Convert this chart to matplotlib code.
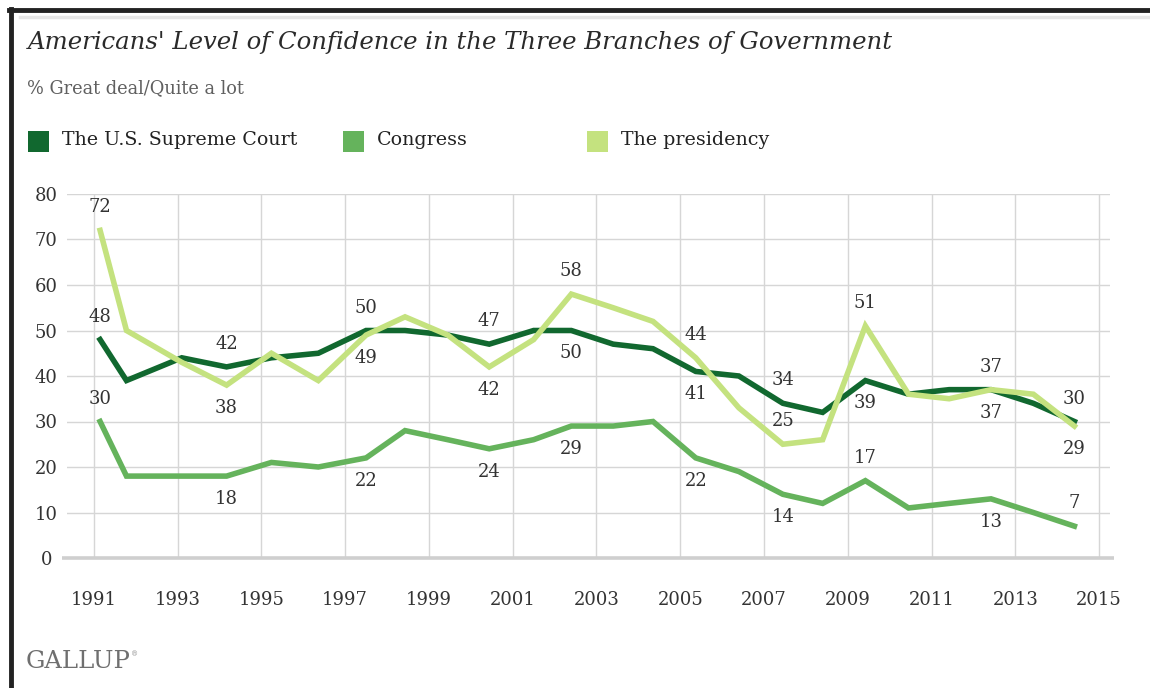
#!/usr/bin/env python3
"""Gallup: confidence in the three branches of government, 1991-2014."""
import matplotlib
matplotlib.use("Agg")
import matplotlib.pyplot as plt
from matplotlib.lines import Line2D
from matplotlib.patches import Rectangle

# survey dates (decimal years)
dates = [1991.15, 1991.78, 1993.1, 1994.17, 1995.24, 1996.36, 1997.5, 1998.43,
         1999.45, 2000.44, 2001.5, 2002.4, 2003.4, 2004.35, 2005.37, 2006.4,
         2007.45, 2008.4, 2009.42, 2010.45, 2011.42, 2012.42, 2013.43, 2014.41]

supreme_court = [48, 39, 44, 42, 44, 45, 50, 50, 49, 47, 50, 50,
                 47, 46, 41, 40, 34, 32, 39, 36, 37, 37, 34, 30]
congress = [30, 18, 18, 18, 21, 20, 22, 28, 26, 24, 26, 29,
            29, 30, 22, 19, 14, 12, 17, 11, 12, 13, 10, 7]
presidency = [72, 50, 43, 38, 45, 39, 49, 53, 49, 42, 48, 58,
              55, 52, 44, 33, 25, 26, 51, 36, 35, 37, 36, 29]

series_names = ["The U.S. Supreme Court", "Congress", "The presidency"]
colors = ["#11682f", "#65b35c", "#c4e27f"]

# which points carry a value label, and on which side of the line
court_labels = {0: "up", 3: "up", 6: "up", 9: "up", 11: "down", 14: "down",
                16: "up", 18: "down", 21: "up", 23: "up"}
congress_labels = {0: "up", 3: "down", 6: "down", 9: "down", 11: "down", 14: "down",
                   16: "down", 18: "up", 21: "down", 23: "up"}
presidency_labels = {0: "up", 3: "down", 6: "down", 9: "down", 11: "up", 14: "up",
                     16: "up", 18: "up", 21: "down", 23: "down"}

x_ticks = list(range(1991, 2016, 2))
y_ticks = list(range(0, 81, 10))

SERIF = "DejaVu Serif"
TEXT = "#333333"

W, H = 1150, 688
fig = plt.figure(figsize=(W / 100, H / 100), dpi=100)
fig.patch.set_facecolor("white")

# plot area in pixels: x 67..1110, y 194..558
ax = fig.add_axes([67 / W, (H - 558) / H, (1110 - 67) / W, (558 - 194) / H])
ax.set_xlim(1990.36, 2015.26)
ax.set_ylim(0, 80)
for s in ax.spines.values():
    s.set_visible(False)

for yv in y_ticks[1:]:
    ax.axhline(yv, color="#d6d6d6", lw=1.0, zorder=0)
for xv in x_ticks:
    ax.axvline(xv, color="#d6d6d6", lw=1.0, zorder=0)
ax.plot([1990.25, 2015.35], [0, 0], color="#cfcfcf", lw=2.6, zorder=1,
        clip_on=False, solid_capstyle="butt")

ax.set_xticks(x_ticks)
ax.set_xticklabels([str(t) for t in x_ticks])
ax.set_yticks(y_ticks)
ax.set_yticklabels([str(v) for v in y_ticks])
ax.tick_params(axis="both", length=0, labelsize=13, labelcolor=TEXT)
ax.tick_params(axis="x", pad=24)
ax.tick_params(axis="y", pad=15)
for lab in ax.get_yticklabels():
    lab.set_horizontalalignment("center")
for lab in ax.get_xticklabels() + ax.get_yticklabels():
    lab.set_family(SERIF)

series = [supreme_court, congress, presidency]
label_maps = [court_labels, congress_labels, presidency_labels]
order = [1, 0, 2]
for i in order:
    ax.plot(dates, series[i], color=colors[i], lw=4.0, solid_joinstyle="miter",
            zorder=3 + order.index(i))

for vals, labels in zip(series, label_maps):
    for idx, side in labels.items():
        dy = 16.5 if side == "up" else -16.5
        ax.annotate(str(vals[idx]), (dates[idx], vals[idx]), xytext=(0, dy),
                    textcoords="offset points", ha="center", va="center",
                    fontsize=13, family=SERIF, color=TEXT, zorder=10)

# title, subtitle
fig.text(28 / W, 1 - 43 / H, "Americans' Level of Confidence in the Three Branches of Government",
         family=SERIF, style="italic", fontsize=17.6, color="#2a2a2a",
         ha="left", va="center")
fig.text(27 / W, 1 - 88 / H, "% Great deal/Quite a lot", family=SERIF,
         fontsize=12.8, color="#606060", ha="left", va="center")

# legend
legend_x = [28, 343, 587]
for name, col, lx in zip(series_names, colors, legend_x):
    fig.patches.append(Rectangle((lx / W, 1 - 152 / H), 21 / W, 21 / H,
                                 transform=fig.transFigure, facecolor=col,
                                 edgecolor="none"))
    fig.text((lx + 34) / W, 1 - 140 / H, name, family=SERIF, fontsize=13.7,
             color="#222222", ha="left", va="center")

# GALLUP mark
fig.text(26 / W, 1 - 662 / H, "GALLUP", family=SERIF, fontsize=17.5,
         color="#6f6f6f", ha="left", va="center")
fig.text(131 / W, 1 - 654 / H, "\u00ae", family=SERIF, fontsize=5,
         color="#8a8a8a", ha="left", va="center")

# dark frame at the left and top, light rule under it
fig.add_artist(Line2D([10.5 / W, 10.5 / W], [0, 1 - 9 / H], transform=fig.transFigure,
                      color="#222222", lw=3.5))
fig.add_artist(Line2D([9 / W, 1], [1 - 10 / H, 1 - 10 / H], transform=fig.transFigure,
                      color="#222222", lw=3.5))
fig.add_artist(Line2D([20 / W, 1], [1 - 17 / H, 1 - 17 / H], transform=fig.transFigure,
                      color="#e6e6e6", lw=2.5))

fig.savefig("out.png", dpi=100, facecolor="white")
